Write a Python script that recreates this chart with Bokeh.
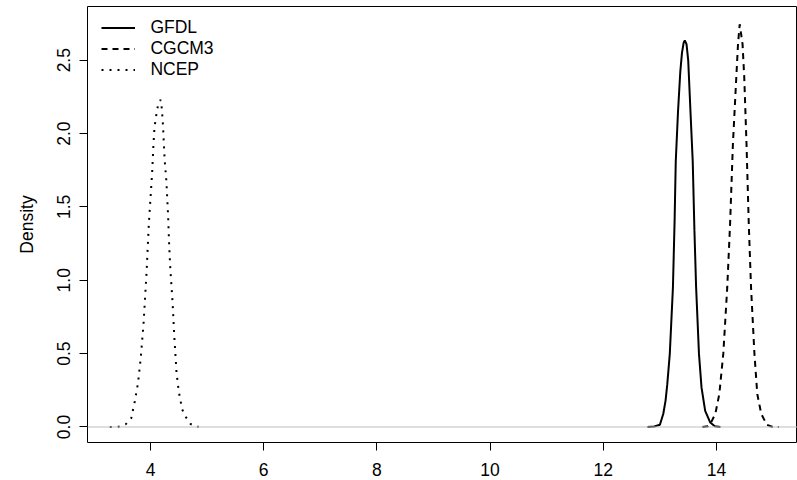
from bokeh.plotting import figure
from bokeh.models import (Range1d, FixedTicker, PrintfTickFormatter, Span,
                          Legend, LegendItem)
from bokeh.embed import file_html
from bokeh.resources import INLINE

# ---- data (kernel density estimates) ----
gfdl_x = [12.78, 12.90, 13.00, 13.06, 13.10, 13.13, 13.175, 13.23, 13.26, 13.28,
          13.32, 13.36, 13.39, 13.42, 13.44, 13.47, 13.50, 13.54, 13.58, 13.61,
          13.64, 13.69, 13.735, 13.80, 13.89, 13.97, 14.07]
gfdl_y = [0.0, 0.003, 0.015, 0.09, 0.18, 0.29, 0.50, 0.95, 1.41, 1.81,
          2.15, 2.42, 2.55, 2.62, 2.635, 2.61, 2.50, 2.15, 1.81, 1.34,
          0.95, 0.50, 0.27, 0.11, 0.03, 0.005, 0.0]

cgcm3_x = [13.75, 13.85, 13.89, 13.98, 14.05, 14.12, 14.19, 14.24, 14.29, 14.35,
           14.38, 14.41, 14.46, 14.49, 14.53, 14.57, 14.61, 14.67, 14.72, 14.79,
           14.89, 14.98, 15.10]
cgcm3_y = [0.0, 0.005, 0.02, 0.09, 0.226, 0.50, 0.953, 1.385, 1.93, 2.385,
           2.61, 2.745, 2.61, 2.385, 1.93, 1.385, 0.953, 0.50, 0.226, 0.09,
           0.015, 0.002, 0.0]

ncep_x = [3.28, 3.42, 3.56, 3.66, 3.72, 3.78, 3.83, 3.88, 3.93, 3.97,
          4.00, 4.03, 4.05, 4.07, 4.10, 4.14, 4.18, 4.20, 4.22, 4.25,
          4.28, 4.31, 4.33, 4.35, 4.39, 4.42, 4.46, 4.50, 4.56, 4.62,
          4.71, 4.85]
ncep_y = [0.0, 0.0, 0.018, 0.06, 0.17, 0.30, 0.48, 0.72, 1.05, 1.38,
          1.56, 1.74, 1.91, 2.04, 2.12, 2.21, 2.23, 2.17, 2.06, 1.82,
          1.68, 1.45, 1.24, 1.08, 0.85, 0.62, 0.37, 0.24, 0.12, 0.07,
          0.02, 0.0]

x_ticks = [4, 6, 8, 10, 12, 14]
y_ticks = [0.0, 0.5, 1.0, 1.5, 2.0, 2.5]
series_names = ["GFDL", "CGCM3", "NCEP"]

FONT = "Liberation Sans"
FS = "17.5px"

p = figure(frame_width=710, frame_height=436,
           min_border_left=87, min_border_right=0, min_border_top=6,
           min_border_bottom=38,
           x_range=Range1d(2.887, 15.431), y_range=Range1d(-0.1057, 2.866),
           output_backend="svg", toolbar_location=None)

p.background_fill_color = "white"
p.border_fill_color = "white"
p.outline_line_color = "black"
p.outline_line_width = 1
p.xgrid.visible = False
p.ygrid.visible = False

# zero line
p.add_layout(Span(location=0, dimension="width", line_color="#bebebe", line_width=1))

r1 = p.line(gfdl_x, gfdl_y, line_color="black", line_width=2)
r2 = p.line(cgcm3_x, cgcm3_y, line_color="black", line_width=2, line_dash="6 5")
r3 = p.line(ncep_x, ncep_y, line_color="black", line_width=2, line_dash="2 6")

# axes
for ax in (p.xaxis[0], p.yaxis[0]):
    ax.axis_line_color = None
    ax.major_tick_out = 8
    ax.major_tick_in = 0
    ax.minor_tick_line_color = None
    ax.major_tick_line_color = "black"
    ax.major_label_text_font = FONT
    ax.major_label_text_font_size = FS
    ax.major_label_text_color = "black"
    ax.axis_label_text_font = FONT
    ax.axis_label_text_font_size = FS
    ax.axis_label_text_font_style = "normal"
    ax.axis_label_text_color = "black"

p.xaxis.ticker = FixedTicker(ticks=x_ticks)
p.xaxis.major_label_standoff = 12
p.yaxis.ticker = FixedTicker(ticks=y_ticks)
p.yaxis.formatter = PrintfTickFormatter(format="%.1f")
p.yaxis.major_label_orientation = "vertical"
p.yaxis.major_label_standoff = 9
p.yaxis.axis_label = "Density"
p.yaxis.axis_label_standoff = 18

legend = Legend(items=[LegendItem(label=series_names[0], renderers=[r1]),
                       LegendItem(label=series_names[1], renderers=[r2]),
                       LegendItem(label=series_names[2], renderers=[r3])],
                location=(14.4, 362.5), orientation="vertical",
                glyph_width=34, glyph_height=21, label_height=21,
                label_standoff=15, spacing=0, padding=0, margin=0,
                border_line_color=None, background_fill_alpha=0,
                label_text_font=FONT, label_text_font_size=FS,
                label_text_color="black")
p.add_layout(legend)

open("out.html", "w").write(file_html(p, INLINE))
